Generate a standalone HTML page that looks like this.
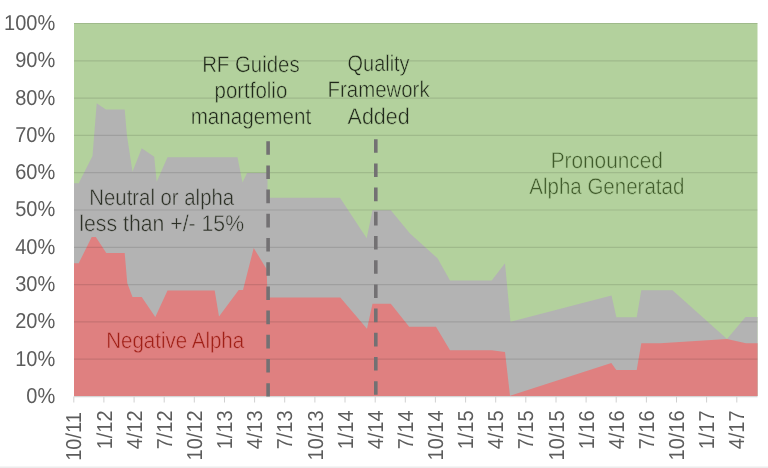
<!DOCTYPE html>
<html lang="en">
<head>
<meta charset="utf-8">
<title>Alpha generation chart</title>
<style>
html,body{margin:0;padding:0;background:#fff;}
body{width:768px;height:468px;overflow:hidden;}
svg{display:block;}
text{font-family:"Liberation Sans",sans-serif;text-rendering:geometricPrecision;}
.ax{font-size:21.6px;fill:#5c5c5c;}
.lbl{font-size:22.7px;text-anchor:middle;}
</style>
</head>
<body>
<svg width="768" height="468" viewBox="0 0 768 468">
<rect x="0" y="0" width="768" height="468" fill="#ffffff"/>
<rect x="0" y="466.5" width="768" height="1.5" fill="#ececec"/>

<polygon points="74.0,23.0 757.5,23.0 757.5,396.0 74.0,396.0" fill="#b3d19d"/>
<polygon points="74.0,183.3 78.7,183.3 92.5,156.0 96.7,103.3 105.8,109.5 124.7,109.5 126.9,135.0 132.5,171.7 141.7,148.3 154.2,156.7 156.7,181.7 167.5,157.2 237.5,157.2 242.5,182.5 247.0,173.0 267.5,173.0 267.5,197.8 340.0,197.8 366.7,238.3 372.5,210.3 390.8,210.3 410.0,233.5 437.5,258.3 450.0,280.5 491.7,280.5 505.0,263.3 510.5,321.7 611.5,295.5 616.4,317.3 636.7,317.3 641.3,290.3 672.5,290.3 727.0,339.0 745.5,317.1 757.5,317.1 757.5,396.0 74.0,396.0" fill="#b3b3b3"/>
<polygon points="74.0,263.3 78.7,263.3 91.7,237.0 95.8,237.0 106.3,253.0 124.7,253.0 127.3,283.3 132.5,297.0 141.7,297.0 155.3,317.0 167.5,290.4 214.7,290.4 219.0,316.6 238.7,290.0 243.0,290.0 253.7,248.0 266.7,269.2 267.5,297.5 340.3,297.5 367.0,328.7 372.5,303.7 390.8,303.7 409.2,326.7 436.0,326.7 450.0,350.3 491.7,350.3 505.0,352.0 510.0,395.8 611.3,363.0 616.3,370.0 636.7,370.0 641.3,343.3 660.0,343.3 727.0,339.1 746.0,343.3 757.5,343.3 757.5,396.0 74.0,396.0" fill="#df8080"/>
<g stroke="#000" stroke-opacity="0.11" stroke-width="1.2">
<line x1="74.0" y1="359.2" x2="757.5" y2="359.2"/>
<line x1="74.0" y1="321.9" x2="757.5" y2="321.9"/>
<line x1="74.0" y1="284.6" x2="757.5" y2="284.6"/>
<line x1="74.0" y1="247.3" x2="757.5" y2="247.3"/>
<line x1="74.0" y1="210.0" x2="757.5" y2="210.0"/>
<line x1="74.0" y1="172.7" x2="757.5" y2="172.7"/>
<line x1="74.0" y1="135.4" x2="757.5" y2="135.4"/>
<line x1="74.0" y1="98.1" x2="757.5" y2="98.1"/>
<line x1="74.0" y1="60.8" x2="757.5" y2="60.8"/>
<line x1="74.0" y1="23.5" x2="757.5" y2="23.5"/>
</g>
<line x1="74.0" y1="396.6" x2="757.5" y2="396.6" stroke="#d6d6d6" stroke-width="1.2"/>
<g stroke="#d0d0d0" stroke-width="1">
<line x1="73.8" y1="396.5" x2="73.8" y2="402.5"/>
<line x1="103.9" y1="396.5" x2="103.9" y2="402.5"/>
<line x1="134.1" y1="396.5" x2="134.1" y2="402.5"/>
<line x1="164.2" y1="396.5" x2="164.2" y2="402.5"/>
<line x1="194.3" y1="396.5" x2="194.3" y2="402.5"/>
<line x1="224.5" y1="396.5" x2="224.5" y2="402.5"/>
<line x1="254.6" y1="396.5" x2="254.6" y2="402.5"/>
<line x1="284.7" y1="396.5" x2="284.7" y2="402.5"/>
<line x1="314.9" y1="396.5" x2="314.9" y2="402.5"/>
<line x1="345.0" y1="396.5" x2="345.0" y2="402.5"/>
<line x1="375.2" y1="396.5" x2="375.2" y2="402.5"/>
<line x1="405.3" y1="396.5" x2="405.3" y2="402.5"/>
<line x1="435.4" y1="396.5" x2="435.4" y2="402.5"/>
<line x1="465.6" y1="396.5" x2="465.6" y2="402.5"/>
<line x1="495.7" y1="396.5" x2="495.7" y2="402.5"/>
<line x1="525.8" y1="396.5" x2="525.8" y2="402.5"/>
<line x1="556.0" y1="396.5" x2="556.0" y2="402.5"/>
<line x1="586.1" y1="396.5" x2="586.1" y2="402.5"/>
<line x1="616.2" y1="396.5" x2="616.2" y2="402.5"/>
<line x1="646.4" y1="396.5" x2="646.4" y2="402.5"/>
<line x1="676.5" y1="396.5" x2="676.5" y2="402.5"/>
<line x1="706.6" y1="396.5" x2="706.6" y2="402.5"/>
<line x1="736.8" y1="396.5" x2="736.8" y2="402.5"/>
</g>
<g stroke="#737173" stroke-width="3.6" stroke-dasharray="13.6 10.6">
<line x1="268.1" y1="141.2" x2="268.1" y2="396.5"/>
<line x1="375.8" y1="139.2" x2="375.8" y2="396.5"/>
</g>
<g class="ax" text-anchor="end">
<text transform="translate(55.2,403.0) scale(0.926,1)">0%</text>
<text transform="translate(55.2,366.0) scale(0.926,1)">10%</text>
<text transform="translate(55.2,328.0) scale(0.926,1)">20%</text>
<text transform="translate(55.2,291.0) scale(0.926,1)">30%</text>
<text transform="translate(55.2,254.0) scale(0.926,1)">40%</text>
<text transform="translate(55.2,216.0) scale(0.926,1)">50%</text>
<text transform="translate(55.2,179.0) scale(0.926,1)">60%</text>
<text transform="translate(55.2,142.0) scale(0.926,1)">70%</text>
<text transform="translate(55.2,105.0) scale(0.926,1)">80%</text>
<text transform="translate(55.2,67.0) scale(0.926,1)">90%</text>
<text transform="translate(55.2,30.0) scale(0.926,1)">100%</text>
</g>
<g class="ax" text-anchor="end">
<text transform="translate(81.4,412.2) rotate(-90) scale(0.926,1)">10/11</text>
<text transform="translate(111.5,410.4) rotate(-90) scale(0.926,1)">1/12</text>
<text transform="translate(141.7,410.4) rotate(-90) scale(0.926,1)">4/12</text>
<text transform="translate(171.8,410.4) rotate(-90) scale(0.926,1)">7/12</text>
<text transform="translate(201.9,410.4) rotate(-90) scale(0.926,1)">10/12</text>
<text transform="translate(232.1,410.4) rotate(-90) scale(0.926,1)">1/13</text>
<text transform="translate(262.2,410.4) rotate(-90) scale(0.926,1)">4/13</text>
<text transform="translate(292.3,410.4) rotate(-90) scale(0.926,1)">7/13</text>
<text transform="translate(322.5,410.4) rotate(-90) scale(0.926,1)">10/13</text>
<text transform="translate(352.6,410.4) rotate(-90) scale(0.926,1)">1/14</text>
<text transform="translate(382.8,410.4) rotate(-90) scale(0.926,1)">4/14</text>
<text transform="translate(412.9,410.4) rotate(-90) scale(0.926,1)">7/14</text>
<text transform="translate(443.0,410.4) rotate(-90) scale(0.926,1)">10/14</text>
<text transform="translate(473.2,410.4) rotate(-90) scale(0.926,1)">1/15</text>
<text transform="translate(503.3,410.4) rotate(-90) scale(0.926,1)">4/15</text>
<text transform="translate(533.4,410.4) rotate(-90) scale(0.926,1)">7/15</text>
<text transform="translate(563.6,410.4) rotate(-90) scale(0.926,1)">10/15</text>
<text transform="translate(593.7,410.4) rotate(-90) scale(0.926,1)">1/16</text>
<text transform="translate(623.8,410.4) rotate(-90) scale(0.926,1)">4/16</text>
<text transform="translate(654.0,410.4) rotate(-90) scale(0.926,1)">7/16</text>
<text transform="translate(684.1,410.4) rotate(-90) scale(0.926,1)">10/16</text>
<text transform="translate(714.2,410.4) rotate(-90) scale(0.926,1)">1/17</text>
<text transform="translate(744.4,410.4) rotate(-90) scale(0.926,1)">4/17</text>
</g>
<g class="lbl" fill="#20281a" stroke="#b3d19d" stroke-width="0.5">
<text x="250.9" y="72" textLength="97.5" lengthAdjust="spacingAndGlyphs">RF Guides</text>
<text x="250.9" y="98" textLength="72.8" lengthAdjust="spacingAndGlyphs">portfolio</text>
<text x="250.9" y="124" textLength="120.5" lengthAdjust="spacingAndGlyphs">management</text>
</g>
<g class="lbl" fill="#20281a" stroke="#b3d19d" stroke-width="0.5">
<text x="378.6" y="71" textLength="62" lengthAdjust="spacingAndGlyphs">Quality</text>
<text x="378.6" y="97" textLength="102" lengthAdjust="spacingAndGlyphs">Framework</text>
<text x="378.6" y="124" textLength="62" lengthAdjust="spacingAndGlyphs">Added</text>
</g>
<g class="lbl" fill="#3f5a2a" stroke="#b3d19d" stroke-width="0.5">
<text x="606.8" y="168" textLength="112.3" lengthAdjust="spacingAndGlyphs">Pronounced</text>
<text x="606.8" y="194" textLength="155" lengthAdjust="spacingAndGlyphs">Alpha Generatad</text>
</g>
<g class="lbl" fill="#2c3026" stroke="#b3b3b3" stroke-width="0.5">
<text x="161.7" y="205" textLength="144.8" lengthAdjust="spacingAndGlyphs">Neutral or alpha</text>
<text x="161.7" y="231" textLength="164.8" lengthAdjust="spacingAndGlyphs">less than +/- 15%</text>
</g>
<g class="lbl" fill="#a01f16" stroke="#df8080" stroke-width="0.5">
<text x="175.2" y="348" textLength="138" lengthAdjust="spacingAndGlyphs">Negative Alpha</text>
</g>
</svg>
</body>
</html>
